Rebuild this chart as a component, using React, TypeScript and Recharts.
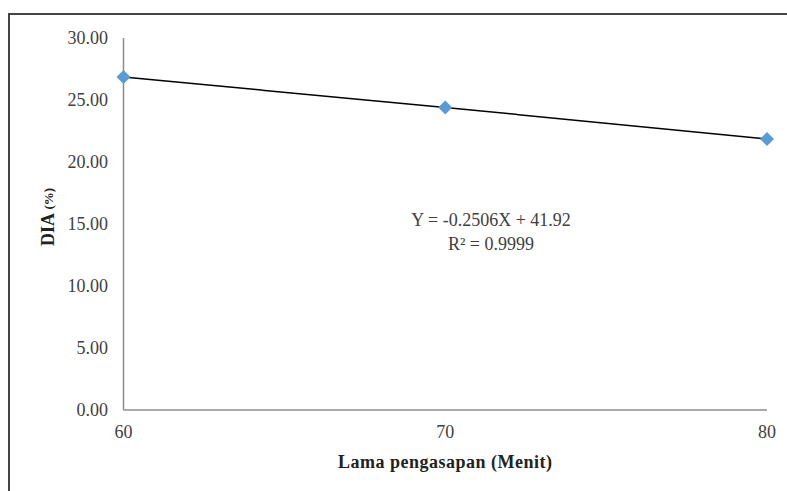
import { LineChart, Line, XAxis, YAxis, Label } from "recharts";

// lama pengasapan (menit) vs DIA (%)
const minutes = [60, 70, 80];
const dia = [26.85, 24.4, 21.85];
const yTicks = [0, 5, 10, 15, 20, 25, 30];
const xTicks = [60, 70, 80];
const equation = "Y = -0.2506X + 41.92";
const rSquared = "0.9999";

const data = minutes.map((m, i) => ({ m, dia: dia[i] }));

const FONT = "'Liberation Serif', 'Times New Roman', serif";
const TEXT = "#404040";
const MARKER = "#5B9BD5";

const Diamond = ({ cx, cy }: any) => {
    if (cx == null || cy == null) return null;
    const r = 7;
    return (
        <polygon
            points={`${cx},${cy - r} ${cx + r},${cy} ${cx},${cy + r} ${cx - r},${cy}`}
            fill={MARKER}
        />
    );
};

const XTitle = ({ viewBox }: any) => {
    const { x, y, width } = viewBox;
    return (
        <text
            x={x + width / 2}
            y={y + 58}
            textAnchor="middle"
            fontFamily={FONT}
            fontWeight="bold"
            fontSize={18}
            letterSpacing={0.5}
            fill="#222"
        >
            Lama pengasapan (Menit)
        </text>
    );
};

const YTitle = ({ viewBox }: any) => {
    const { y, height } = viewBox;
    const cx = 38;
    const cy = y + height / 2 - 7;
    return (
        <text
            x={cx}
            y={cy}
            transform={`rotate(-90, ${cx}, ${cy})`}
            textAnchor="middle"
            dominantBaseline="central"
            fontFamily={FONT}
            fontWeight="bold"
            fontSize={18}
            fill="#222"
        >
            DIA <tspan fontSize={13}>(%)</tspan>
        </text>
    );
};

const App = () => {
    return (
        <div
            style={{
                position: "fixed",
                left: 8,
                top: 13,
                width: 820,
                height: 520,
                border: "2px solid #444",
                background: "#fff",
            }}
        >
            <LineChart
                width={780}
                height={480}
                data={data}
                margin={{ top: 23, right: 23, left: 0, bottom: 0 }}
            >
                <XAxis
                    dataKey="m"
                    type="number"
                    domain={[60, 80]}
                    ticks={xTicks}
                    height={85}
                    tickLine={false}
                    tickSize={0}
                    tickMargin={15}
                    axisLine={{ stroke: "#8c8c8c", strokeWidth: 1.5 }}
                    tick={{ fontSize: 18, fill: TEXT, fontFamily: FONT }}
                >
                    <Label content={<XTitle />} />
                </XAxis>
                <YAxis
                    type="number"
                    domain={[0, 30]}
                    ticks={yTicks}
                    width={113.5}
                    tickLine={false}
                    tickSize={0}
                    tickMargin={15.5}
                    axisLine={{ stroke: "#8c8c8c", strokeWidth: 1.5 }}
                    tickFormatter={(v: number) => v.toFixed(2)}
                    tick={{ fontSize: 18, fill: TEXT, fontFamily: FONT }}
                >
                    <Label content={<YTitle />} />
                </YAxis>
                <Line
                    dataKey="dia"
                    stroke="#000"
                    strokeWidth={1.5}
                    dot={<Diamond />}
                    activeDot={false}
                    isAnimationActive={false}
                />
            </LineChart>
            <div
                style={{
                    position: "absolute",
                    left: 331,
                    top: 193,
                    width: 300,
                    textAlign: "center",
                    fontFamily: FONT,
                    fontSize: 18,
                    lineHeight: "24px",
                    color: TEXT,
                }}
            >
                <div>{equation}</div>
                <div>
                    R² = {rSquared}
                </div>
            </div>
        </div>
    );
};

export default App;
